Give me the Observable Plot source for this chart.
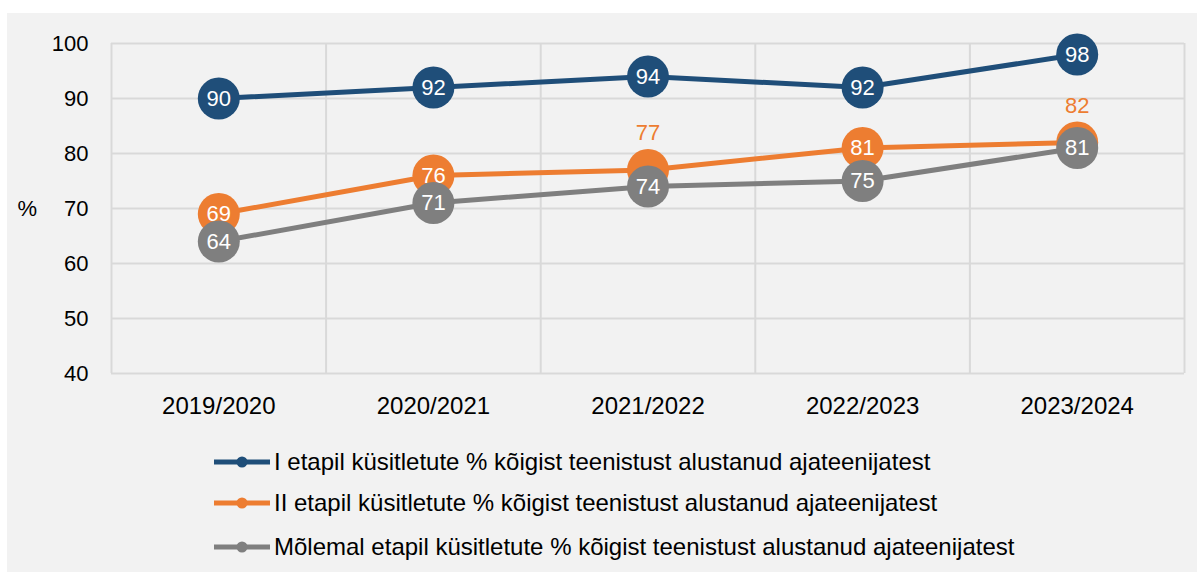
<!DOCTYPE html>
<html><head><meta charset="utf-8">
<script src="https://cdn.jsdelivr.net/npm/d3@7"></script>
<script src="https://cdn.jsdelivr.net/npm/@observablehq/plot@0.6"></script>
<style>
body{margin:0;background:#fff;font-family:"Liberation Sans",Arial,sans-serif;}
#panel{position:absolute;left:7px;top:13px;width:1190px;height:559px;background:#f2f2f2;overflow:hidden;}
#chart{position:absolute;left:0;top:0;}
.lg{position:absolute;left:207px;height:28px;display:flex;align-items:center;font-size:24px;color:#000;white-space:nowrap;}
.lg svg{margin-right:4px;}
</style></head><body>
<div id="panel"><div id="chart"></div><div id="legend"></div></div>
<script>
const years = ["2019/2020","2020/2021","2021/2022","2022/2023","2023/2024"];
const seriesNames = [
  "I etapil küsitletute % kõigist teenistust alustanud ajateenijatest",
  "II etapil küsitletute % kõigist teenistust alustanud ajateenijatest",
  "Mõlemal etapil küsitletute % kõigist teenistust alustanud ajateenijatest"
];
const valuesI = [90,92,94,92,98];
const valuesII = [69,76,77,81,82];
const valuesBoth = [64,71,74,75,81];
const yTicks = [40,50,60,70,80,90,100];
const colors = ["#1f4e79","#ed7d31","#7f7f7f"];
// labels placed above the marker (series index -> point indices)
const labelsAbove = {1:[2,4]};

const allValues = [valuesI, valuesII, valuesBoth];
const series = allValues.map((vals, si) => vals.map((v, i) => ({i, year: years[i], v, si, above: (labelsAbove[si]||[]).includes(i)})));

const marks = [
  Plot.ruleX(d3.range(years.length + 1).map(k => k - 0.5), {stroke:"#d9d9d9", strokeWidth:2}),
  Plot.ruleY(yTicks, {stroke:"#d9d9d9", strokeWidth:2}),
  Plot.text(["%"], {frameAnchor:"left", dx:-94, text:d=>d, fontSize:22, fill:"#000"})
];
series.forEach((rows, si) => {
  const c = colors[si];
  marks.push(Plot.line(rows, {x:"i", y:"v", stroke:c, strokeWidth:5}));
  marks.push(Plot.dot(rows, {x:"i", y:"v", r:21, fill:c, stroke:"none"}));
  marks.push(Plot.text(rows.filter(d=>!d.above), {x:"i", y:"v", text:d=>String(d.v), fill:"#fff", fontSize:22}));
  marks.push(Plot.text(rows.filter(d=>d.above), {x:"i", y:"v", text:d=>String(d.v), fill:c, fontSize:22, dy:-37}));
});

const chart = Plot.plot({
  width:1190, height:420,
  marginLeft:104, marginRight:13, marginTop:30, marginBottom:60,
  style:{fontSize:"22px", fontFamily:"Liberation Sans, Arial, sans-serif", background:"transparent", color:"#000"},
  x:{domain:[-0.5, years.length - 0.5], ticks:d3.range(years.length), tickFormat:i=>years[i], tickSize:0, tickPadding:23, label:null, fontSize:24},
  y:{domain:[40,100], ticks:yTicks, tickSize:0, tickPadding:23, label:null},
  marks: [
    ...marks,
    Plot.axisX({domain:[-0.5, years.length - 0.5], ticks:d3.range(years.length), tickFormat:i=>years[i], tickSize:0, tickPadding:23, label:null, fontSize:24}),
    Plot.axisY({ticks:yTicks, tickSize:0, tickPadding:23, label:null, fontSize:22})
  ]
});
document.getElementById("chart").appendChild(chart);

const legend = document.getElementById("legend");
const rowCenters = [449, 490, 534];
seriesNames.forEach((name, si) => {
  const row = document.createElement("div");
  row.className = "lg";
  row.style.top = (rowCenters[si] - 14) + "px";
  row.innerHTML = `<svg width="56" height="14"><line x1="0" x2="56" y1="7" y2="7" stroke="${colors[si]}" stroke-width="5"/><circle cx="28" cy="7" r="5.5" fill="${colors[si]}"/></svg><span>${name}</span>`;
  legend.appendChild(row);
});
</script>
</body></html>
